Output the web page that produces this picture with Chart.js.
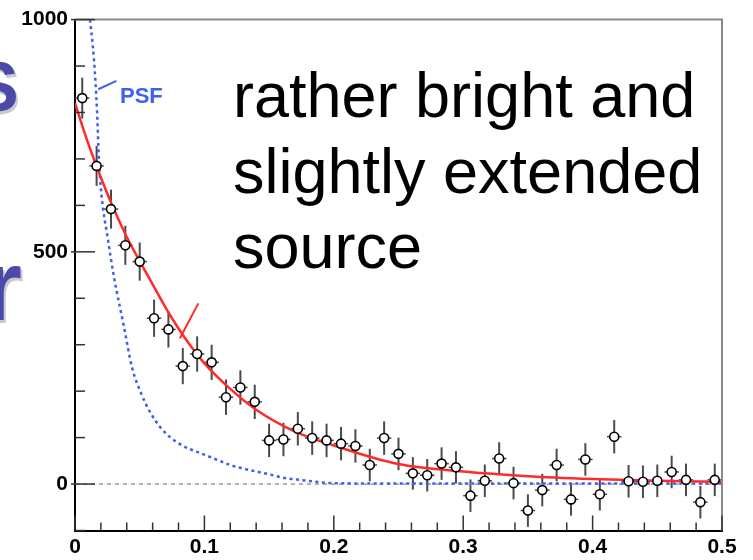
<!DOCTYPE html>
<html>
<head>
<meta charset="utf-8">
<script src="https://cdn.jsdelivr.net/npm/chart.js@4.4.1/dist/chart.umd.min.js"></script>
<style>
  html, body { margin: 0; padding: 0; background: #fff; }
  #wrap { width: 753px; height: 560px; }
</style>
</head>
<body>
<div id="wrap"><canvas id="chart" width="753" height="560"></canvas></div>
<script>
// measured profile: bin centres, counts and their errors
const binCenters = [
  0.0056, 0.0167, 0.0278, 0.0389, 0.0500, 0.0611, 0.0722, 0.0833, 0.0944, 0.1056,
  0.1167, 0.1278, 0.1389, 0.1500, 0.1611, 0.1722, 0.1833, 0.1944, 0.2056, 0.2167,
  0.2278, 0.2389, 0.2500, 0.2611, 0.2722, 0.2833, 0.2944, 0.3056, 0.3167, 0.3278,
  0.3389, 0.3500, 0.3611, 0.3722, 0.3833, 0.3944, 0.4056, 0.4167, 0.4278, 0.4389,
  0.4500, 0.4611, 0.4722, 0.4833, 0.4944
];
const counts = [
  831, 685, 592, 514, 479, 357, 333, 254, 280, 262,
  187, 208, 177, 94, 96, 119, 99, 94, 87, 82,
  41, 99, 65, 23, 19, 44, 36, -25, 7, 55,
  2, -57, -13, 41, -33, 53, -22, 102, 6, 5,
  7, 26, 9, -39, 9
];
const countErrors = [
  44, 43, 42, 42, 41, 40, 39, 39, 38, 38,
  38, 37, 37, 36, 36, 36, 36, 36, 36, 36,
  35, 36, 35, 35, 35, 35, 35, 35, 35, 35,
  35, 35, 35, 35, 35, 35, 35, 36, 35, 35,
  35, 35, 35, 35, 35
];
const binHalfWidth = 0.0056;

// fitted model (red) and point spread function (blue)
const fitX = [0, 0.01, 0.02, 0.03, 0.04, 0.05, 0.06, 0.07, 0.08, 0.09, 0.10, 0.12, 0.14, 0.17, 0.20, 0.25, 0.30, 0.35, 0.40, 0.45, 0.50];
const fitY = [820, 735, 660, 592, 532, 480, 430, 380, 335, 295, 260, 205, 160, 113, 83, 43, 27, 17, 11, 7, 5];
const psfX = [0.0116, 0.0147, 0.0170, 0.0185, 0.0209, 0.0247, 0.0301, 0.0379, 0.0440, 0.0510, 0.0580, 0.0657, 0.0734, 0.0811, 0.0889, 0.0966, 0.1082, 0.1221, 0.1352, 0.1484, 0.1623, 0.1739, 0.1994, 0.2512, 0.5];
const psfY = [1000, 913, 805, 698, 611, 540, 446, 338, 252, 196, 155, 123, 101, 86, 75, 67, 54, 39, 30, 22, 13, 9, 2, 1, 1];
const zeroX = [0, 0.5];
const zeroY = [0, 0];
const markX = [0.0811, 0.0953];
const markY = [314, 389];

const xTickValues = [0, 0.1, 0.2, 0.3, 0.4, 0.5];
const yTickValues = [0, 500, 1000];
const noteLines = ["rather bright and", "slightly extended", "source"];
const psfLabel = "PSF";

const FONT = '"Liberation Sans", Arial, Helvetica, sans-serif';

function toPoints(xs, ys) {
  return xs.map((x, i) => ({ x: x, y: ys[i] }));
}

const decorations = {
  id: "decorations",
  beforeDatasetsDraw(chart) {
    const { ctx, scales } = chart;
    const x = scales.x, y = scales.y;
    ctx.save();
    ctx.strokeStyle = "#4a4a4a";
    binCenters.forEach((bx, i) => {
      const px = x.getPixelForValue(bx);
      const py = y.getPixelForValue(counts[i]);
      ctx.lineWidth = 2;
      ctx.beginPath();
      ctx.moveTo(px, y.getPixelForValue(counts[i] - countErrors[i]));
      ctx.lineTo(px, y.getPixelForValue(counts[i] + countErrors[i]));
      ctx.stroke();
      ctx.lineWidth = 1.5;
      ctx.beginPath();
      ctx.moveTo(x.getPixelForValue(bx - binHalfWidth), py);
      ctx.lineTo(x.getPixelForValue(bx + binHalfWidth), py);
      ctx.stroke();
    });
    ctx.restore();
  },
  afterDraw(chart) {
    const { ctx, chartArea: area, scales } = chart;
    const x = scales.x, y = scales.y;
    ctx.save();

    // top and right frame
    ctx.strokeStyle = "#8a8a8a";
    ctx.lineWidth = 2;
    ctx.beginPath();
    ctx.moveTo(area.left, area.top);
    ctx.lineTo(area.right, area.top);
    ctx.lineTo(area.right, area.bottom);
    ctx.stroke();

    // inward tick marks
    ctx.strokeStyle = "#333";
    ctx.lineWidth = 1.5;
    for (let v = -100; v <= 1000; v += 100) {
      const py = y.getPixelForValue(v);
      const len = yTickValues.includes(v) ? 20 : 10;
      ctx.beginPath();
      ctx.moveTo(area.left - (len > 10 ? 4 : 0), py);
      ctx.lineTo(area.left + len, py);
      ctx.stroke();
    }
    for (let k = 0; k <= 25; k++) {
      const px = x.getPixelForValue(k * 0.02);
      const len = k % 5 === 0 ? 15 : 8;
      ctx.beginPath();
      ctx.moveTo(px, area.bottom);
      ctx.lineTo(px, area.bottom - len);
      ctx.stroke();
    }

    // PSF label with pointer
    ctx.strokeStyle = "#3d60f0";
    ctx.lineWidth = 2;
    ctx.beginPath();
    ctx.moveTo(x.getPixelForValue(0.018), y.getPixelForValue(850));
    ctx.lineTo(x.getPixelForValue(0.032), y.getPixelForValue(868));
    ctx.stroke();
    ctx.fillStyle = "#3d60f0";
    ctx.font = "bold 22px " + FONT;
    ctx.textAlign = "left";
    ctx.textBaseline = "alphabetic";
    ctx.fillText(psfLabel, 120, 103);

    // slide note
    ctx.fillStyle = "#000";
    ctx.font = "63px " + FONT;
    const baselines = [117, 193, 268];
    noteLines.forEach((t, i) => ctx.fillText(t, 233, baselines[i]));

    // cut-off slide title letters on the left edge
    ctx.font = "bold 70px " + FONT;
    ctx.fillStyle = "#c8c8d0";
    ctx.fillText("S", -26, 114);
    ctx.fillStyle = "#4b4aa8";
    ctx.fillText("S", -28, 111);
    ctx.font = "bold 100px " + FONT;
    ctx.fillStyle = "#c8c8d0";
    ctx.fillText("r", -15, 323);
    ctx.fillStyle = "#4b4aa8";
    ctx.fillText("r", -17, 320);

    ctx.restore();
  }
};

new Chart(document.getElementById("chart").getContext("2d"), {
  type: "scatter",
  data: {
    datasets: [
      {
        label: "data",
        data: toPoints(binCenters, counts),
        showLine: false,
        pointRadius: 4.5,
        pointBackgroundColor: "#fff",
        pointBorderColor: "#000",
        pointBorderWidth: 1.6
      },
      {
        label: "mark",
        data: toPoints(markX, markY),
        showLine: true,
        borderColor: "#ff2b2b",
        borderWidth: 2,
        pointRadius: 0
      },
      {
        label: "fit",
        data: toPoints(fitX, fitY),
        showLine: true,
        borderColor: "#ff2b2b",
        borderWidth: 2.5,
        pointRadius: 0,
        cubicInterpolationMode: "monotone"
      },
      {
        label: "PSF",
        data: toPoints(psfX, psfY),
        showLine: true,
        borderColor: "#3a5ef2",
        borderWidth: 2.5,
        borderDash: [3, 3.5],
        pointRadius: 0,
        cubicInterpolationMode: "monotone"
      },
      {
        label: "zero",
        data: toPoints(zeroX, zeroY),
        showLine: true,
        borderColor: "#9a9a9a",
        borderWidth: 1.5,
        borderDash: [4, 4],
        pointRadius: 0
      }
    ]
  },
  options: {
    responsive: false,
    devicePixelRatio: 1,
    animation: false,
    layout: { padding: { top: 19.5, right: 31, bottom: 0, left: 0 } },
    plugins: {
      legend: { display: false },
      tooltip: { enabled: false }
    },
    scales: {
      x: {
        type: "linear",
        min: 0,
        max: 0.5,
        afterBuildTicks: (s) => { s.ticks = xTickValues.map((v) => ({ value: v })); },
        afterFit: (s) => { s.height = 29.5; },
        grid: { display: false, drawTicks: false },
        border: { display: true, color: "#000", width: 2 },
        ticks: {
          autoSkip: false,
          maxRotation: 0,
          padding: 4,
          color: "#000",
          font: { family: FONT, size: 21, weight: "bold" },
          callback: (v) => String(v)
        }
      },
      y: {
        type: "linear",
        min: -100,
        max: 1000,
        afterBuildTicks: (s) => { s.ticks = yTickValues.map((v) => ({ value: v })); },
        afterFit: (s) => { s.width = 75; },
        grid: { display: false, drawTicks: false },
        border: { display: true, color: "#000", width: 2 },
        ticks: {
          padding: 7,
          color: "#000",
          font: { family: FONT, size: 21, weight: "bold" },
          callback: (v) => String(v)
        }
      }
    }
  },
  plugins: [decorations]
});
</script>
</body>
</html>
